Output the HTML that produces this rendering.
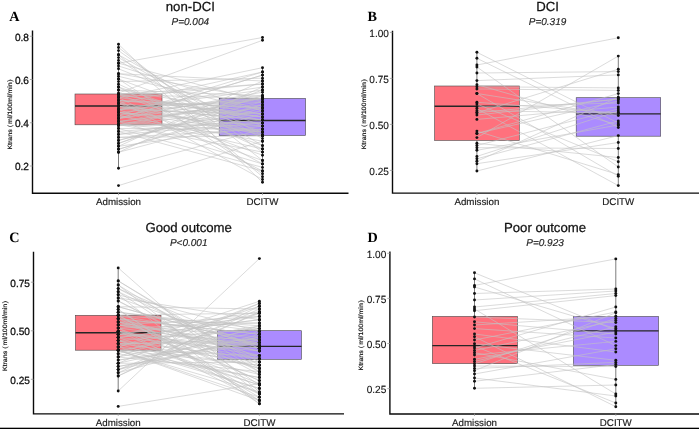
<!DOCTYPE html>
<html><head><meta charset="utf-8"><title>Ktrans boxplots</title>
<style>html,body{margin:0;padding:0;background:#fff;width:699px;height:429px;overflow:hidden}</style>
</head><body>
<svg width="699" height="429" viewBox="0 0 699 429" style="display:block;will-change:transform;text-rendering:geometricPrecision"><rect x="0" y="0" width="699" height="429" fill="#fff"/><g><line x1="118.5" y1="44.3" x2="118.5" y2="94" stroke="#6e6e6e" stroke-width="0.9"/><line x1="118.5" y1="124.8" x2="118.5" y2="168.3" stroke="#6e6e6e" stroke-width="0.9"/><line x1="262.5" y1="67.7" x2="262.5" y2="98.4" stroke="#6e6e6e" stroke-width="0.9"/><line x1="262.5" y1="135.5" x2="262.5" y2="182.3" stroke="#6e6e6e" stroke-width="0.9"/><rect x="75" y="94" width="87.00" height="30.80" fill="#FF717D" stroke="#4a4a4a" stroke-width="0.6"/><line x1="75" y1="106" x2="162" y2="106" stroke="#262626" stroke-width="1.35"/><rect x="219.2" y="98.4" width="86.40" height="37.10" fill="#AB8BFF" stroke="#4a4a4a" stroke-width="0.6"/><line x1="219.2" y1="120.5" x2="305.6" y2="120.5" stroke="#262626" stroke-width="1.35"/><path d="M118.5 63.2L262.5 37.5M118.5 93.0L262.5 40.3M118.5 168.3L262.5 129.2M118.5 185.6L262.5 141.2M118.5 44.3L262.5 182.3M118.5 47.5L262.5 160.5M118.5 50.6L262.5 152.1M118.5 54.8L262.5 176.7M118.5 54.8L262.5 135.3M118.5 57.6L262.5 138.6M118.5 60.4L262.5 145.6M118.5 63.2L262.5 101.7M118.5 66.0L262.5 110.8M118.5 68.8L262.5 126.1M118.5 73.7L262.5 81.0M118.5 73.7L262.5 98.6M118.5 76.3L262.5 110.8M118.5 79.0L262.5 132.2M118.5 79.0L262.5 173.8M118.5 81.6L262.5 78.2M118.5 84.2L262.5 149.0M118.5 87.0L262.5 163.9M118.5 87.0L262.5 135.3M118.5 90.0L262.5 113.9M118.5 90.0L262.5 95.7M118.5 94.5L262.5 117.0M118.5 94.5L262.5 145.6M118.5 94.5L262.5 120.0M118.5 94.5L262.5 84.0M118.5 94.5L262.5 98.6M118.5 97.5L262.5 84.0M118.5 97.5L262.5 67.7M118.5 97.5L262.5 117.0M118.5 97.5L262.5 171.0M118.5 100.5L262.5 107.8M118.5 100.5L262.5 113.9M118.5 100.5L262.5 179.5M118.5 100.5L262.5 107.8M118.5 103.5L262.5 72.0M118.5 103.5L262.5 117.0M118.5 103.5L262.5 155.2M118.5 103.5L262.5 135.3M118.5 106.5L262.5 132.2M118.5 106.5L262.5 101.7M118.5 106.5L262.5 120.0M118.5 106.5L262.5 120.0M118.5 109.5L262.5 90.0M118.5 109.5L262.5 87.0M118.5 109.5L262.5 98.2M118.5 109.5L262.5 160.5M118.5 109.5L262.5 113.9M118.5 112.5L262.5 126.1M118.5 112.5L262.5 98.6M118.5 112.5L262.5 132.2M118.5 112.5L262.5 123.1M118.5 115.5L262.5 149.0M118.5 115.5L262.5 72.0M118.5 115.5L262.5 141.2M118.5 115.5L262.5 95.7M118.5 118.5L262.5 92.2M118.5 118.5L262.5 75.1M118.5 118.5L262.5 98.2M118.5 118.5L262.5 75.1M118.5 121.5L262.5 104.7M118.5 121.5L262.5 163.9M118.5 121.5L262.5 101.7M118.5 121.5L262.5 132.2M118.5 124.5L262.5 152.1M118.5 124.5L262.5 136.0M118.5 124.5L262.5 98.2M118.5 124.5L262.5 126.1M118.5 125.5L262.5 98.6M118.5 125.5L262.5 123.1M118.5 125.5L262.5 107.8M118.5 128.5L262.5 129.2M118.5 128.5L262.5 167.4M118.5 131.5L262.5 171.0M118.5 131.5L262.5 120.0M118.5 134.4L262.5 110.8M118.5 134.4L262.5 123.1M118.5 137.4L262.5 136.0M118.5 137.4L262.5 129.2M118.5 140.4L262.5 101.7M118.5 140.4L262.5 104.7M118.5 143.4L262.5 90.0M118.5 143.4L262.5 95.7M118.5 146.3L262.5 81.0M118.5 146.3L262.5 126.1M118.5 149.3L262.5 104.7M118.5 149.3L262.5 107.8M118.5 152.3L262.5 113.9M118.5 152.3L262.5 87.0" stroke="#c2c2c2" stroke-width="0.6" fill="none"/><g fill="#111"><circle cx="118.5" cy="44.3" r="1.45"/><circle cx="118.5" cy="47.5" r="1.45"/><circle cx="118.5" cy="50.6" r="1.45"/><circle cx="118.5" cy="54.8" r="1.45"/><circle cx="118.5" cy="54.8" r="1.45"/><circle cx="118.5" cy="57.6" r="1.45"/><circle cx="118.5" cy="60.4" r="1.45"/><circle cx="118.5" cy="63.2" r="1.45"/><circle cx="118.5" cy="63.2" r="1.45"/><circle cx="118.5" cy="66.0" r="1.45"/><circle cx="118.5" cy="68.8" r="1.45"/><circle cx="118.5" cy="73.7" r="1.45"/><circle cx="118.5" cy="73.7" r="1.45"/><circle cx="118.5" cy="76.3" r="1.45"/><circle cx="118.5" cy="79.0" r="1.45"/><circle cx="118.5" cy="79.0" r="1.45"/><circle cx="118.5" cy="81.6" r="1.45"/><circle cx="118.5" cy="84.2" r="1.45"/><circle cx="118.5" cy="87.0" r="1.45"/><circle cx="118.5" cy="87.0" r="1.45"/><circle cx="118.5" cy="90.0" r="1.45"/><circle cx="118.5" cy="90.0" r="1.45"/><circle cx="118.5" cy="93.0" r="1.45"/><circle cx="118.5" cy="94.5" r="1.45"/><circle cx="118.5" cy="94.5" r="1.45"/><circle cx="118.5" cy="94.5" r="1.45"/><circle cx="118.5" cy="94.5" r="1.45"/><circle cx="118.5" cy="94.5" r="1.45"/><circle cx="118.5" cy="97.5" r="1.45"/><circle cx="118.5" cy="97.5" r="1.45"/><circle cx="118.5" cy="97.5" r="1.45"/><circle cx="118.5" cy="97.5" r="1.45"/><circle cx="118.5" cy="100.5" r="1.45"/><circle cx="118.5" cy="100.5" r="1.45"/><circle cx="118.5" cy="100.5" r="1.45"/><circle cx="118.5" cy="100.5" r="1.45"/><circle cx="118.5" cy="103.5" r="1.45"/><circle cx="118.5" cy="103.5" r="1.45"/><circle cx="118.5" cy="103.5" r="1.45"/><circle cx="118.5" cy="103.5" r="1.45"/><circle cx="118.5" cy="106.5" r="1.45"/><circle cx="118.5" cy="106.5" r="1.45"/><circle cx="118.5" cy="106.5" r="1.45"/><circle cx="118.5" cy="106.5" r="1.45"/><circle cx="118.5" cy="109.5" r="1.45"/><circle cx="118.5" cy="109.5" r="1.45"/><circle cx="118.5" cy="109.5" r="1.45"/><circle cx="118.5" cy="109.5" r="1.45"/><circle cx="118.5" cy="109.5" r="1.45"/><circle cx="118.5" cy="112.5" r="1.45"/><circle cx="118.5" cy="112.5" r="1.45"/><circle cx="118.5" cy="112.5" r="1.45"/><circle cx="118.5" cy="112.5" r="1.45"/><circle cx="118.5" cy="115.5" r="1.45"/><circle cx="118.5" cy="115.5" r="1.45"/><circle cx="118.5" cy="115.5" r="1.45"/><circle cx="118.5" cy="115.5" r="1.45"/><circle cx="118.5" cy="118.5" r="1.45"/><circle cx="118.5" cy="118.5" r="1.45"/><circle cx="118.5" cy="118.5" r="1.45"/><circle cx="118.5" cy="118.5" r="1.45"/><circle cx="118.5" cy="121.5" r="1.45"/><circle cx="118.5" cy="121.5" r="1.45"/><circle cx="118.5" cy="121.5" r="1.45"/><circle cx="118.5" cy="121.5" r="1.45"/><circle cx="118.5" cy="124.5" r="1.45"/><circle cx="118.5" cy="124.5" r="1.45"/><circle cx="118.5" cy="124.5" r="1.45"/><circle cx="118.5" cy="124.5" r="1.45"/><circle cx="118.5" cy="125.5" r="1.45"/><circle cx="118.5" cy="125.5" r="1.45"/><circle cx="118.5" cy="125.5" r="1.45"/><circle cx="118.5" cy="128.5" r="1.45"/><circle cx="118.5" cy="128.5" r="1.45"/><circle cx="118.5" cy="131.5" r="1.45"/><circle cx="118.5" cy="131.5" r="1.45"/><circle cx="118.5" cy="134.4" r="1.45"/><circle cx="118.5" cy="134.4" r="1.45"/><circle cx="118.5" cy="137.4" r="1.45"/><circle cx="118.5" cy="137.4" r="1.45"/><circle cx="118.5" cy="140.4" r="1.45"/><circle cx="118.5" cy="140.4" r="1.45"/><circle cx="118.5" cy="143.4" r="1.45"/><circle cx="118.5" cy="143.4" r="1.45"/><circle cx="118.5" cy="146.3" r="1.45"/><circle cx="118.5" cy="146.3" r="1.45"/><circle cx="118.5" cy="149.3" r="1.45"/><circle cx="118.5" cy="149.3" r="1.45"/><circle cx="118.5" cy="152.3" r="1.45"/><circle cx="118.5" cy="152.3" r="1.45"/><circle cx="118.5" cy="168.3" r="1.45"/><circle cx="118.5" cy="185.6" r="1.45"/><circle cx="262.5" cy="37.5" r="1.45"/><circle cx="262.5" cy="40.3" r="1.45"/><circle cx="262.5" cy="67.7" r="1.45"/><circle cx="262.5" cy="72.0" r="1.45"/><circle cx="262.5" cy="72.0" r="1.45"/><circle cx="262.5" cy="75.1" r="1.45"/><circle cx="262.5" cy="75.1" r="1.45"/><circle cx="262.5" cy="78.2" r="1.45"/><circle cx="262.5" cy="81.0" r="1.45"/><circle cx="262.5" cy="81.0" r="1.45"/><circle cx="262.5" cy="84.0" r="1.45"/><circle cx="262.5" cy="84.0" r="1.45"/><circle cx="262.5" cy="87.0" r="1.45"/><circle cx="262.5" cy="87.0" r="1.45"/><circle cx="262.5" cy="90.0" r="1.45"/><circle cx="262.5" cy="90.0" r="1.45"/><circle cx="262.5" cy="92.2" r="1.45"/><circle cx="262.5" cy="95.7" r="1.45"/><circle cx="262.5" cy="95.7" r="1.45"/><circle cx="262.5" cy="95.7" r="1.45"/><circle cx="262.5" cy="98.2" r="1.45"/><circle cx="262.5" cy="98.2" r="1.45"/><circle cx="262.5" cy="98.2" r="1.45"/><circle cx="262.5" cy="98.6" r="1.45"/><circle cx="262.5" cy="98.6" r="1.45"/><circle cx="262.5" cy="98.6" r="1.45"/><circle cx="262.5" cy="98.6" r="1.45"/><circle cx="262.5" cy="101.7" r="1.45"/><circle cx="262.5" cy="101.7" r="1.45"/><circle cx="262.5" cy="101.7" r="1.45"/><circle cx="262.5" cy="101.7" r="1.45"/><circle cx="262.5" cy="104.7" r="1.45"/><circle cx="262.5" cy="104.7" r="1.45"/><circle cx="262.5" cy="104.7" r="1.45"/><circle cx="262.5" cy="107.8" r="1.45"/><circle cx="262.5" cy="107.8" r="1.45"/><circle cx="262.5" cy="107.8" r="1.45"/><circle cx="262.5" cy="107.8" r="1.45"/><circle cx="262.5" cy="110.8" r="1.45"/><circle cx="262.5" cy="110.8" r="1.45"/><circle cx="262.5" cy="110.8" r="1.45"/><circle cx="262.5" cy="113.9" r="1.45"/><circle cx="262.5" cy="113.9" r="1.45"/><circle cx="262.5" cy="113.9" r="1.45"/><circle cx="262.5" cy="113.9" r="1.45"/><circle cx="262.5" cy="117.0" r="1.45"/><circle cx="262.5" cy="117.0" r="1.45"/><circle cx="262.5" cy="117.0" r="1.45"/><circle cx="262.5" cy="120.0" r="1.45"/><circle cx="262.5" cy="120.0" r="1.45"/><circle cx="262.5" cy="120.0" r="1.45"/><circle cx="262.5" cy="120.0" r="1.45"/><circle cx="262.5" cy="123.1" r="1.45"/><circle cx="262.5" cy="123.1" r="1.45"/><circle cx="262.5" cy="123.1" r="1.45"/><circle cx="262.5" cy="126.1" r="1.45"/><circle cx="262.5" cy="126.1" r="1.45"/><circle cx="262.5" cy="126.1" r="1.45"/><circle cx="262.5" cy="126.1" r="1.45"/><circle cx="262.5" cy="129.2" r="1.45"/><circle cx="262.5" cy="129.2" r="1.45"/><circle cx="262.5" cy="129.2" r="1.45"/><circle cx="262.5" cy="132.2" r="1.45"/><circle cx="262.5" cy="132.2" r="1.45"/><circle cx="262.5" cy="132.2" r="1.45"/><circle cx="262.5" cy="132.2" r="1.45"/><circle cx="262.5" cy="135.3" r="1.45"/><circle cx="262.5" cy="135.3" r="1.45"/><circle cx="262.5" cy="135.3" r="1.45"/><circle cx="262.5" cy="136.0" r="1.45"/><circle cx="262.5" cy="136.0" r="1.45"/><circle cx="262.5" cy="138.6" r="1.45"/><circle cx="262.5" cy="141.2" r="1.45"/><circle cx="262.5" cy="141.2" r="1.45"/><circle cx="262.5" cy="145.6" r="1.45"/><circle cx="262.5" cy="145.6" r="1.45"/><circle cx="262.5" cy="149.0" r="1.45"/><circle cx="262.5" cy="149.0" r="1.45"/><circle cx="262.5" cy="152.1" r="1.45"/><circle cx="262.5" cy="152.1" r="1.45"/><circle cx="262.5" cy="155.2" r="1.45"/><circle cx="262.5" cy="160.5" r="1.45"/><circle cx="262.5" cy="160.5" r="1.45"/><circle cx="262.5" cy="163.9" r="1.45"/><circle cx="262.5" cy="163.9" r="1.45"/><circle cx="262.5" cy="167.4" r="1.45"/><circle cx="262.5" cy="171.0" r="1.45"/><circle cx="262.5" cy="171.0" r="1.45"/><circle cx="262.5" cy="173.8" r="1.45"/><circle cx="262.5" cy="176.7" r="1.45"/><circle cx="262.5" cy="179.5" r="1.45"/><circle cx="262.5" cy="182.3" r="1.45"/></g><path d="M32.5 30.6V193.20000000000002H348.5" stroke="#0a0a0a" stroke-width="1.4" fill="none"/><line x1="29.9" y1="36.25" x2="32.5" y2="36.25" stroke="#999" stroke-width="0.8"/><text transform="translate(28.9 40.55) scale(0.97 1)" font-size="10.4" text-anchor="end" fill="#111" stroke="#111" stroke-width="0.3" font-family='"Liberation Sans", sans-serif'>0.8</text><line x1="29.9" y1="79.5" x2="32.5" y2="79.5" stroke="#999" stroke-width="0.8"/><text transform="translate(28.9 83.8) scale(0.97 1)" font-size="10.4" text-anchor="end" fill="#111" stroke="#111" stroke-width="0.3" font-family='"Liberation Sans", sans-serif'>0.6</text><line x1="29.9" y1="122.75" x2="32.5" y2="122.75" stroke="#999" stroke-width="0.8"/><text transform="translate(28.9 127.05) scale(0.97 1)" font-size="10.4" text-anchor="end" fill="#111" stroke="#111" stroke-width="0.3" font-family='"Liberation Sans", sans-serif'>0.4</text><line x1="29.9" y1="166" x2="32.5" y2="166" stroke="#999" stroke-width="0.8"/><text transform="translate(28.9 170.3) scale(0.97 1)" font-size="10.4" text-anchor="end" fill="#111" stroke="#111" stroke-width="0.3" font-family='"Liberation Sans", sans-serif'>0.2</text><line x1="118.5" y1="192.9" x2="118.5" y2="195.1" stroke="#999" stroke-width="0.8"/><line x1="262.5" y1="192.9" x2="262.5" y2="195.1" stroke="#999" stroke-width="0.8"/><text x="118.5" y="204.9" font-size="9.75" stroke="#1a1a1a" stroke-width="0.15" text-anchor="middle" fill="#1a1a1a" font-family='"Liberation Sans", sans-serif'>Admission</text><text x="262.5" y="204.9" font-size="9.75" stroke="#1a1a1a" stroke-width="0.15" text-anchor="middle" fill="#1a1a1a" font-family='"Liberation Sans", sans-serif'>DCITW</text><text x="190.3" y="11" font-size="13.2" text-anchor="middle" fill="#111" stroke="#111" stroke-width="0.25" font-family='"Liberation Sans", sans-serif'>non-DCI</text><text x="190.3" y="24.9" font-size="10" font-style="italic" text-anchor="middle" fill="#222" stroke="#222" stroke-width="0.15" font-family='"Liberation Sans", sans-serif'>P=0.004</text><text x="9.2" y="21" font-size="14.2" font-weight="bold" fill="#000" font-family='"Liberation Serif", serif'>A</text><text transform="translate(12.0 149.6) rotate(-90) scale(1 0.9)" font-size="7" fill="#111" stroke="#111" stroke-width="0.2" font-family='"Liberation Sans", sans-serif'>Ktrans<tspan dx="2.1">(</tspan><tspan dx="1.0">ml/100ml/min</tspan><tspan dx="0.6">)</tspan></text></g><g><line x1="476.9" y1="52.3" x2="476.9" y2="86" stroke="#6e6e6e" stroke-width="0.9"/><line x1="476.9" y1="140.4" x2="476.9" y2="171" stroke="#6e6e6e" stroke-width="0.9"/><line x1="618.3" y1="56.1" x2="618.3" y2="97.7" stroke="#6e6e6e" stroke-width="0.9"/><line x1="618.3" y1="136.2" x2="618.3" y2="185.6" stroke="#6e6e6e" stroke-width="0.9"/><rect x="434.6" y="86" width="84.70" height="54.40" fill="#FF717D" stroke="#4a4a4a" stroke-width="0.6"/><line x1="434.6" y1="106.2" x2="519.3" y2="106.2" stroke="#262626" stroke-width="1.35"/><rect x="576.2" y="97.7" width="84.50" height="38.50" fill="#AB8BFF" stroke="#4a4a4a" stroke-width="0.6"/><line x1="576.2" y1="113.8" x2="660.7" y2="113.8" stroke="#262626" stroke-width="1.35"/><path d="M476.9 65.0L618.3 37.8M476.9 137.6L618.3 56.1M476.9 52.3L618.3 123.0M476.9 58.3L618.3 127.5M476.9 73.0L618.3 71.6M476.9 80.6L618.3 74.9M476.9 86.7L618.3 87.9M476.9 89.0L618.3 90.4M476.9 67.0L618.3 167.0M476.9 84.7L618.3 125.0M476.9 93.5L618.3 176.2M476.9 93.5L618.3 115.5M476.9 102.3L618.3 113.0M476.9 104.0L618.3 161.7M476.9 106.8L618.3 103.0M476.9 108.6L618.3 185.6M476.9 110.7L618.3 113.0M476.9 112.8L618.3 69.2M476.9 112.8L618.3 99.0M476.9 115.1L618.3 99.0M476.9 119.4L618.3 107.0M476.9 131.1L618.3 174.6M476.9 133.5L618.3 93.6M476.9 133.5L618.3 101.0M476.9 143.3L618.3 157.5M476.9 145.5L618.3 109.0M476.9 147.7L618.3 148.5M476.9 150.3L618.3 125.0M476.9 156.4L618.3 111.0M476.9 158.8L618.3 121.0M476.9 161.3L618.3 97.2M476.9 163.7L618.3 142.5M476.9 171.0L618.3 135.6" stroke="#c2c2c2" stroke-width="0.6" fill="none"/><g fill="#111"><circle cx="476.9" cy="52.3" r="1.45"/><circle cx="476.9" cy="58.3" r="1.45"/><circle cx="476.9" cy="65.0" r="1.45"/><circle cx="476.9" cy="67.0" r="1.45"/><circle cx="476.9" cy="73.0" r="1.45"/><circle cx="476.9" cy="80.6" r="1.45"/><circle cx="476.9" cy="84.7" r="1.45"/><circle cx="476.9" cy="86.7" r="1.45"/><circle cx="476.9" cy="89.0" r="1.45"/><circle cx="476.9" cy="93.5" r="1.45"/><circle cx="476.9" cy="102.3" r="1.45"/><circle cx="476.9" cy="104.0" r="1.45"/><circle cx="476.9" cy="106.8" r="1.45"/><circle cx="476.9" cy="108.6" r="1.45"/><circle cx="476.9" cy="110.7" r="1.45"/><circle cx="476.9" cy="112.8" r="1.45"/><circle cx="476.9" cy="115.1" r="1.45"/><circle cx="476.9" cy="119.4" r="1.45"/><circle cx="476.9" cy="112.8" r="1.45"/><circle cx="476.9" cy="131.1" r="1.45"/><circle cx="476.9" cy="133.5" r="1.45"/><circle cx="476.9" cy="137.6" r="1.45"/><circle cx="476.9" cy="143.3" r="1.45"/><circle cx="476.9" cy="145.5" r="1.45"/><circle cx="476.9" cy="147.7" r="1.45"/><circle cx="476.9" cy="150.3" r="1.45"/><circle cx="476.9" cy="156.4" r="1.45"/><circle cx="476.9" cy="158.8" r="1.45"/><circle cx="476.9" cy="161.3" r="1.45"/><circle cx="476.9" cy="163.7" r="1.45"/><circle cx="476.9" cy="171.0" r="1.45"/><circle cx="476.9" cy="93.5" r="1.45"/><circle cx="476.9" cy="133.5" r="1.45"/><circle cx="618.3" cy="37.8" r="1.45"/><circle cx="618.3" cy="56.1" r="1.45"/><circle cx="618.3" cy="69.2" r="1.45"/><circle cx="618.3" cy="71.6" r="1.45"/><circle cx="618.3" cy="74.9" r="1.45"/><circle cx="618.3" cy="87.9" r="1.45"/><circle cx="618.3" cy="90.4" r="1.45"/><circle cx="618.3" cy="93.6" r="1.45"/><circle cx="618.3" cy="97.2" r="1.45"/><circle cx="618.3" cy="99.0" r="1.45"/><circle cx="618.3" cy="101.0" r="1.45"/><circle cx="618.3" cy="103.0" r="1.45"/><circle cx="618.3" cy="107.0" r="1.45"/><circle cx="618.3" cy="109.0" r="1.45"/><circle cx="618.3" cy="111.0" r="1.45"/><circle cx="618.3" cy="113.0" r="1.45"/><circle cx="618.3" cy="115.5" r="1.45"/><circle cx="618.3" cy="121.0" r="1.45"/><circle cx="618.3" cy="123.0" r="1.45"/><circle cx="618.3" cy="125.0" r="1.45"/><circle cx="618.3" cy="127.5" r="1.45"/><circle cx="618.3" cy="135.6" r="1.45"/><circle cx="618.3" cy="142.5" r="1.45"/><circle cx="618.3" cy="148.5" r="1.45"/><circle cx="618.3" cy="157.5" r="1.45"/><circle cx="618.3" cy="161.7" r="1.45"/><circle cx="618.3" cy="167.0" r="1.45"/><circle cx="618.3" cy="174.6" r="1.45"/><circle cx="618.3" cy="176.2" r="1.45"/><circle cx="618.3" cy="185.6" r="1.45"/><circle cx="618.3" cy="99.0" r="1.45"/><circle cx="618.3" cy="113.0" r="1.45"/><circle cx="618.3" cy="125.0" r="1.45"/></g><path d="M392.5 30.8V193.10000000000002H699" stroke="#0a0a0a" stroke-width="1.4" fill="none"/><line x1="389.9" y1="32.4" x2="392.5" y2="32.4" stroke="#999" stroke-width="0.8"/><text transform="translate(388.9 36.699999999999996) scale(0.97 1)" font-size="10.4" text-anchor="end" fill="#111" stroke="#111" stroke-width="0.1" font-family='"Liberation Sans", sans-serif'>1.00</text><line x1="389.9" y1="78.4" x2="392.5" y2="78.4" stroke="#999" stroke-width="0.8"/><text transform="translate(388.9 82.7) scale(0.97 1)" font-size="10.4" text-anchor="end" fill="#111" stroke="#111" stroke-width="0.1" font-family='"Liberation Sans", sans-serif'>0.75</text><line x1="389.9" y1="124.4" x2="392.5" y2="124.4" stroke="#999" stroke-width="0.8"/><text transform="translate(388.9 128.70000000000002) scale(0.97 1)" font-size="10.4" text-anchor="end" fill="#111" stroke="#111" stroke-width="0.1" font-family='"Liberation Sans", sans-serif'>0.50</text><line x1="389.9" y1="170.4" x2="392.5" y2="170.4" stroke="#999" stroke-width="0.8"/><text transform="translate(388.9 174.70000000000002) scale(0.97 1)" font-size="10.4" text-anchor="end" fill="#111" stroke="#111" stroke-width="0.1" font-family='"Liberation Sans", sans-serif'>0.25</text><line x1="476.9" y1="192.8" x2="476.9" y2="195.0" stroke="#999" stroke-width="0.8"/><line x1="618.3" y1="192.8" x2="618.3" y2="195.0" stroke="#999" stroke-width="0.8"/><text x="476.9" y="204.5" font-size="9.75" stroke="#1a1a1a" stroke-width="0.15" text-anchor="middle" fill="#1a1a1a" font-family='"Liberation Sans", sans-serif'>Admission</text><text x="618.3" y="204.5" font-size="9.75" stroke="#1a1a1a" stroke-width="0.15" text-anchor="middle" fill="#1a1a1a" font-family='"Liberation Sans", sans-serif'>DCITW</text><text x="547.5" y="10.8" font-size="13.2" text-anchor="middle" fill="#111" stroke="#111" stroke-width="0.25" font-family='"Liberation Sans", sans-serif'>DCI</text><text x="547.5" y="24.8" font-size="10" font-style="italic" text-anchor="middle" fill="#222" stroke="#222" stroke-width="0.15" font-family='"Liberation Sans", sans-serif'>P=0.319</text><text x="367.6" y="20.7" font-size="14.2" font-weight="bold" fill="#000" font-family='"Liberation Serif", serif'>B</text><text transform="translate(365.9 149.3) rotate(-90) scale(1 0.9)" font-size="7" fill="#111" stroke="#111" stroke-width="0.2" font-family='"Liberation Sans", sans-serif'>Ktrans<tspan dx="2.1">(</tspan><tspan dx="1.0">ml/100ml/min</tspan><tspan dx="0.6">)</tspan></text></g><g><line x1="118.2" y1="267.9" x2="118.2" y2="315.3" stroke="#6e6e6e" stroke-width="0.9"/><line x1="118.2" y1="350.2" x2="118.2" y2="391" stroke="#6e6e6e" stroke-width="0.9"/><line x1="259.4" y1="301.5" x2="259.4" y2="330.7" stroke="#6e6e6e" stroke-width="0.9"/><line x1="259.4" y1="359.3" x2="259.4" y2="402.8" stroke="#6e6e6e" stroke-width="0.9"/><rect x="75.5" y="315.3" width="85.50" height="34.90" fill="#FF717D" stroke="#4a4a4a" stroke-width="0.6"/><line x1="75.5" y1="332.7" x2="161" y2="332.7" stroke="#262626" stroke-width="1.35"/><rect x="217.6" y="330.7" width="83.90" height="28.60" fill="#AB8BFF" stroke="#4a4a4a" stroke-width="0.6"/><line x1="217.6" y1="346.4" x2="301.5" y2="346.4" stroke="#262626" stroke-width="1.35"/><path d="M118.2 391.0L259.4 258.6M118.2 406.4L259.4 383.6M118.2 267.9L259.4 392.0M118.2 280.9L259.4 368.5M118.2 280.9L259.4 365.3M118.2 285.0L259.4 394.0M118.2 285.0L259.4 371.7M118.2 288.6L259.4 362.0M118.2 288.6L259.4 348.2M118.2 291.7L259.4 385.0M118.2 291.7L259.4 358.8M118.2 294.8L259.4 403.8M118.2 294.8L259.4 331.4M118.2 297.9L259.4 348.2M118.2 297.9L259.4 319.7M118.2 301.0L259.4 371.7M118.2 301.0L259.4 374.5M118.2 306.7L259.4 309.0M118.2 306.7L259.4 345.4M118.2 306.7L259.4 345.4M118.2 309.5L259.4 400.5M118.2 309.5L259.4 403.8M118.2 312.2L259.4 331.4M118.2 312.2L259.4 328.6M118.2 315.0L259.4 397.3M118.2 315.0L259.4 313.2M118.2 315.6L259.4 394.0M118.2 315.6L259.4 325.8M118.2 315.6L259.4 339.8M118.2 315.6L259.4 380.6M118.2 318.7L259.4 334.2M118.2 318.7L259.4 334.2M118.2 318.7L259.4 380.6M118.2 318.7L259.4 355.6M118.2 321.9L259.4 351.0M118.2 321.9L259.4 348.2M118.2 321.9L259.4 323.0M118.2 321.9L259.4 368.5M118.2 325.0L259.4 342.6M118.2 325.0L259.4 351.0M118.2 325.0L259.4 337.0M118.2 325.0L259.4 316.5M118.2 328.1L259.4 323.0M118.2 328.1L259.4 345.4M118.2 328.1L259.4 400.5M118.2 328.1L259.4 383.6M118.2 331.2L259.4 358.8M118.2 331.2L259.4 355.6M118.2 331.2L259.4 394.0M118.2 331.2L259.4 368.5M118.2 334.4L259.4 316.5M118.2 334.4L259.4 339.8M118.2 334.4L259.4 311.8M118.2 334.4L259.4 348.2M118.2 337.5L259.4 319.7M118.2 337.5L259.4 385.0M118.2 337.5L259.4 319.7M118.2 337.5L259.4 351.0M118.2 340.6L259.4 358.8M118.2 340.6L259.4 374.5M118.2 340.6L259.4 385.0M118.2 340.6L259.4 328.6M118.2 343.7L259.4 388.5M118.2 343.7L259.4 362.0M118.2 343.7L259.4 339.8M118.2 343.7L259.4 342.6M118.2 346.9L259.4 365.3M118.2 346.9L259.4 388.5M118.2 346.9L259.4 313.2M118.2 346.9L259.4 301.3M118.2 350.0L259.4 397.3M118.2 350.0L259.4 400.5M118.2 350.0L259.4 365.3M118.2 350.0L259.4 355.6M118.2 350.6L259.4 392.0M118.2 350.6L259.4 325.8M118.2 350.6L259.4 377.5M118.2 353.8L259.4 377.5M118.2 353.8L259.4 306.2M118.2 357.0L259.4 328.6M118.2 357.0L259.4 303.4M118.2 357.0L259.4 371.7M118.2 360.1L259.4 342.6M118.2 360.1L259.4 337.0M118.2 363.3L259.4 303.4M118.2 363.3L259.4 331.4M118.2 363.3L259.4 362.0M118.2 366.5L259.4 339.8M118.2 366.5L259.4 342.6M118.2 369.6L259.4 325.8M118.2 369.6L259.4 337.0M118.2 369.6L259.4 313.2M118.2 372.8L259.4 334.2M118.2 372.8L259.4 309.0M118.2 376.0L259.4 311.8M118.2 376.0L259.4 306.2" stroke="#c2c2c2" stroke-width="0.6" fill="none"/><g fill="#111"><circle cx="118.2" cy="267.9" r="1.45"/><circle cx="118.2" cy="280.9" r="1.45"/><circle cx="118.2" cy="280.9" r="1.45"/><circle cx="118.2" cy="285.0" r="1.45"/><circle cx="118.2" cy="285.0" r="1.45"/><circle cx="118.2" cy="288.6" r="1.45"/><circle cx="118.2" cy="288.6" r="1.45"/><circle cx="118.2" cy="291.7" r="1.45"/><circle cx="118.2" cy="291.7" r="1.45"/><circle cx="118.2" cy="294.8" r="1.45"/><circle cx="118.2" cy="294.8" r="1.45"/><circle cx="118.2" cy="297.9" r="1.45"/><circle cx="118.2" cy="297.9" r="1.45"/><circle cx="118.2" cy="301.0" r="1.45"/><circle cx="118.2" cy="301.0" r="1.45"/><circle cx="118.2" cy="306.7" r="1.45"/><circle cx="118.2" cy="306.7" r="1.45"/><circle cx="118.2" cy="306.7" r="1.45"/><circle cx="118.2" cy="309.5" r="1.45"/><circle cx="118.2" cy="309.5" r="1.45"/><circle cx="118.2" cy="312.2" r="1.45"/><circle cx="118.2" cy="312.2" r="1.45"/><circle cx="118.2" cy="315.0" r="1.45"/><circle cx="118.2" cy="315.0" r="1.45"/><circle cx="118.2" cy="315.6" r="1.45"/><circle cx="118.2" cy="315.6" r="1.45"/><circle cx="118.2" cy="315.6" r="1.45"/><circle cx="118.2" cy="315.6" r="1.45"/><circle cx="118.2" cy="318.7" r="1.45"/><circle cx="118.2" cy="318.7" r="1.45"/><circle cx="118.2" cy="318.7" r="1.45"/><circle cx="118.2" cy="318.7" r="1.45"/><circle cx="118.2" cy="321.9" r="1.45"/><circle cx="118.2" cy="321.9" r="1.45"/><circle cx="118.2" cy="321.9" r="1.45"/><circle cx="118.2" cy="321.9" r="1.45"/><circle cx="118.2" cy="325.0" r="1.45"/><circle cx="118.2" cy="325.0" r="1.45"/><circle cx="118.2" cy="325.0" r="1.45"/><circle cx="118.2" cy="325.0" r="1.45"/><circle cx="118.2" cy="328.1" r="1.45"/><circle cx="118.2" cy="328.1" r="1.45"/><circle cx="118.2" cy="328.1" r="1.45"/><circle cx="118.2" cy="328.1" r="1.45"/><circle cx="118.2" cy="331.2" r="1.45"/><circle cx="118.2" cy="331.2" r="1.45"/><circle cx="118.2" cy="331.2" r="1.45"/><circle cx="118.2" cy="331.2" r="1.45"/><circle cx="118.2" cy="334.4" r="1.45"/><circle cx="118.2" cy="334.4" r="1.45"/><circle cx="118.2" cy="334.4" r="1.45"/><circle cx="118.2" cy="334.4" r="1.45"/><circle cx="118.2" cy="337.5" r="1.45"/><circle cx="118.2" cy="337.5" r="1.45"/><circle cx="118.2" cy="337.5" r="1.45"/><circle cx="118.2" cy="337.5" r="1.45"/><circle cx="118.2" cy="340.6" r="1.45"/><circle cx="118.2" cy="340.6" r="1.45"/><circle cx="118.2" cy="340.6" r="1.45"/><circle cx="118.2" cy="340.6" r="1.45"/><circle cx="118.2" cy="343.7" r="1.45"/><circle cx="118.2" cy="343.7" r="1.45"/><circle cx="118.2" cy="343.7" r="1.45"/><circle cx="118.2" cy="343.7" r="1.45"/><circle cx="118.2" cy="346.9" r="1.45"/><circle cx="118.2" cy="346.9" r="1.45"/><circle cx="118.2" cy="346.9" r="1.45"/><circle cx="118.2" cy="346.9" r="1.45"/><circle cx="118.2" cy="350.0" r="1.45"/><circle cx="118.2" cy="350.0" r="1.45"/><circle cx="118.2" cy="350.0" r="1.45"/><circle cx="118.2" cy="350.0" r="1.45"/><circle cx="118.2" cy="350.6" r="1.45"/><circle cx="118.2" cy="350.6" r="1.45"/><circle cx="118.2" cy="350.6" r="1.45"/><circle cx="118.2" cy="353.8" r="1.45"/><circle cx="118.2" cy="353.8" r="1.45"/><circle cx="118.2" cy="357.0" r="1.45"/><circle cx="118.2" cy="357.0" r="1.45"/><circle cx="118.2" cy="357.0" r="1.45"/><circle cx="118.2" cy="360.1" r="1.45"/><circle cx="118.2" cy="360.1" r="1.45"/><circle cx="118.2" cy="363.3" r="1.45"/><circle cx="118.2" cy="363.3" r="1.45"/><circle cx="118.2" cy="363.3" r="1.45"/><circle cx="118.2" cy="366.5" r="1.45"/><circle cx="118.2" cy="366.5" r="1.45"/><circle cx="118.2" cy="369.6" r="1.45"/><circle cx="118.2" cy="369.6" r="1.45"/><circle cx="118.2" cy="369.6" r="1.45"/><circle cx="118.2" cy="372.8" r="1.45"/><circle cx="118.2" cy="372.8" r="1.45"/><circle cx="118.2" cy="376.0" r="1.45"/><circle cx="118.2" cy="376.0" r="1.45"/><circle cx="118.2" cy="391.0" r="1.45"/><circle cx="118.2" cy="406.4" r="1.45"/><circle cx="259.4" cy="258.6" r="1.45"/><circle cx="259.4" cy="301.3" r="1.45"/><circle cx="259.4" cy="303.4" r="1.45"/><circle cx="259.4" cy="303.4" r="1.45"/><circle cx="259.4" cy="306.2" r="1.45"/><circle cx="259.4" cy="306.2" r="1.45"/><circle cx="259.4" cy="309.0" r="1.45"/><circle cx="259.4" cy="309.0" r="1.45"/><circle cx="259.4" cy="311.8" r="1.45"/><circle cx="259.4" cy="311.8" r="1.45"/><circle cx="259.4" cy="313.2" r="1.45"/><circle cx="259.4" cy="313.2" r="1.45"/><circle cx="259.4" cy="313.2" r="1.45"/><circle cx="259.4" cy="316.5" r="1.45"/><circle cx="259.4" cy="316.5" r="1.45"/><circle cx="259.4" cy="319.7" r="1.45"/><circle cx="259.4" cy="319.7" r="1.45"/><circle cx="259.4" cy="319.7" r="1.45"/><circle cx="259.4" cy="323.0" r="1.45"/><circle cx="259.4" cy="323.0" r="1.45"/><circle cx="259.4" cy="325.8" r="1.45"/><circle cx="259.4" cy="325.8" r="1.45"/><circle cx="259.4" cy="325.8" r="1.45"/><circle cx="259.4" cy="328.6" r="1.45"/><circle cx="259.4" cy="328.6" r="1.45"/><circle cx="259.4" cy="328.6" r="1.45"/><circle cx="259.4" cy="331.4" r="1.45"/><circle cx="259.4" cy="331.4" r="1.45"/><circle cx="259.4" cy="331.4" r="1.45"/><circle cx="259.4" cy="334.2" r="1.45"/><circle cx="259.4" cy="334.2" r="1.45"/><circle cx="259.4" cy="334.2" r="1.45"/><circle cx="259.4" cy="337.0" r="1.45"/><circle cx="259.4" cy="337.0" r="1.45"/><circle cx="259.4" cy="337.0" r="1.45"/><circle cx="259.4" cy="339.8" r="1.45"/><circle cx="259.4" cy="339.8" r="1.45"/><circle cx="259.4" cy="339.8" r="1.45"/><circle cx="259.4" cy="339.8" r="1.45"/><circle cx="259.4" cy="342.6" r="1.45"/><circle cx="259.4" cy="342.6" r="1.45"/><circle cx="259.4" cy="342.6" r="1.45"/><circle cx="259.4" cy="342.6" r="1.45"/><circle cx="259.4" cy="345.4" r="1.45"/><circle cx="259.4" cy="345.4" r="1.45"/><circle cx="259.4" cy="345.4" r="1.45"/><circle cx="259.4" cy="348.2" r="1.45"/><circle cx="259.4" cy="348.2" r="1.45"/><circle cx="259.4" cy="348.2" r="1.45"/><circle cx="259.4" cy="348.2" r="1.45"/><circle cx="259.4" cy="351.0" r="1.45"/><circle cx="259.4" cy="351.0" r="1.45"/><circle cx="259.4" cy="351.0" r="1.45"/><circle cx="259.4" cy="355.6" r="1.45"/><circle cx="259.4" cy="355.6" r="1.45"/><circle cx="259.4" cy="355.6" r="1.45"/><circle cx="259.4" cy="358.8" r="1.45"/><circle cx="259.4" cy="358.8" r="1.45"/><circle cx="259.4" cy="358.8" r="1.45"/><circle cx="259.4" cy="362.0" r="1.45"/><circle cx="259.4" cy="362.0" r="1.45"/><circle cx="259.4" cy="362.0" r="1.45"/><circle cx="259.4" cy="365.3" r="1.45"/><circle cx="259.4" cy="365.3" r="1.45"/><circle cx="259.4" cy="365.3" r="1.45"/><circle cx="259.4" cy="368.5" r="1.45"/><circle cx="259.4" cy="368.5" r="1.45"/><circle cx="259.4" cy="368.5" r="1.45"/><circle cx="259.4" cy="371.7" r="1.45"/><circle cx="259.4" cy="371.7" r="1.45"/><circle cx="259.4" cy="371.7" r="1.45"/><circle cx="259.4" cy="374.5" r="1.45"/><circle cx="259.4" cy="374.5" r="1.45"/><circle cx="259.4" cy="377.5" r="1.45"/><circle cx="259.4" cy="377.5" r="1.45"/><circle cx="259.4" cy="380.6" r="1.45"/><circle cx="259.4" cy="380.6" r="1.45"/><circle cx="259.4" cy="383.6" r="1.45"/><circle cx="259.4" cy="383.6" r="1.45"/><circle cx="259.4" cy="385.0" r="1.45"/><circle cx="259.4" cy="385.0" r="1.45"/><circle cx="259.4" cy="385.0" r="1.45"/><circle cx="259.4" cy="388.5" r="1.45"/><circle cx="259.4" cy="388.5" r="1.45"/><circle cx="259.4" cy="392.0" r="1.45"/><circle cx="259.4" cy="392.0" r="1.45"/><circle cx="259.4" cy="394.0" r="1.45"/><circle cx="259.4" cy="394.0" r="1.45"/><circle cx="259.4" cy="394.0" r="1.45"/><circle cx="259.4" cy="397.3" r="1.45"/><circle cx="259.4" cy="397.3" r="1.45"/><circle cx="259.4" cy="400.5" r="1.45"/><circle cx="259.4" cy="400.5" r="1.45"/><circle cx="259.4" cy="400.5" r="1.45"/><circle cx="259.4" cy="403.8" r="1.45"/><circle cx="259.4" cy="403.8" r="1.45"/></g><path d="M33.5 251.7V413.90000000000003H344" stroke="#0a0a0a" stroke-width="1.4" fill="none"/><line x1="30.9" y1="282.2" x2="33.5" y2="282.2" stroke="#999" stroke-width="0.8"/><text transform="translate(29.9 286.5) scale(0.97 1)" font-size="10.4" text-anchor="end" fill="#111" stroke="#111" stroke-width="0.3" font-family='"Liberation Sans", sans-serif'>0.75</text><line x1="30.9" y1="330.8" x2="33.5" y2="330.8" stroke="#999" stroke-width="0.8"/><text transform="translate(29.9 335.1) scale(0.97 1)" font-size="10.4" text-anchor="end" fill="#111" stroke="#111" stroke-width="0.3" font-family='"Liberation Sans", sans-serif'>0.50</text><line x1="30.9" y1="379.3" x2="33.5" y2="379.3" stroke="#999" stroke-width="0.8"/><text transform="translate(29.9 383.6) scale(0.97 1)" font-size="10.4" text-anchor="end" fill="#111" stroke="#111" stroke-width="0.3" font-family='"Liberation Sans", sans-serif'>0.25</text><line x1="118.2" y1="413.6" x2="118.2" y2="415.8" stroke="#999" stroke-width="0.8"/><line x1="259.4" y1="413.6" x2="259.4" y2="415.8" stroke="#999" stroke-width="0.8"/><text x="118.2" y="425.8" font-size="9.75" stroke="#1a1a1a" stroke-width="0.15" text-anchor="middle" fill="#1a1a1a" font-family='"Liberation Sans", sans-serif'>Admission</text><text x="259.4" y="425.8" font-size="9.75" stroke="#1a1a1a" stroke-width="0.15" text-anchor="middle" fill="#1a1a1a" font-family='"Liberation Sans", sans-serif'>DCITW</text><text x="188.7" y="232" font-size="13.2" text-anchor="middle" fill="#111" stroke="#111" stroke-width="0.25" font-family='"Liberation Sans", sans-serif'>Good outcome</text><text x="188.7" y="245.8" font-size="10" font-style="italic" text-anchor="middle" fill="#222" stroke="#222" stroke-width="0.15" font-family='"Liberation Sans", sans-serif'>P&lt;0.001</text><text x="9.3" y="242" font-size="14.2" font-weight="bold" fill="#000" font-family='"Liberation Serif", serif'>C</text><text transform="translate(7.2 371.1) rotate(-90) scale(1 0.9)" font-size="7" fill="#111" stroke="#111" stroke-width="0.2" font-family='"Liberation Sans", sans-serif'>Ktrans<tspan dx="2.1">(</tspan><tspan dx="1.0">ml/100ml/min</tspan><tspan dx="0.6">)</tspan></text></g><g><line x1="474.5" y1="272.8" x2="474.5" y2="316.4" stroke="#6e6e6e" stroke-width="0.9"/><line x1="474.5" y1="363.6" x2="474.5" y2="388.3" stroke="#6e6e6e" stroke-width="0.9"/><line x1="615.8" y1="258.9" x2="615.8" y2="316.4" stroke="#6e6e6e" stroke-width="0.9"/><line x1="615.8" y1="365.3" x2="615.8" y2="406.7" stroke="#6e6e6e" stroke-width="0.9"/><rect x="432.3" y="316.4" width="85.10" height="47.20" fill="#FF717D" stroke="#4a4a4a" stroke-width="0.6"/><line x1="432.3" y1="345.6" x2="517.4" y2="345.6" stroke="#262626" stroke-width="1.35"/><rect x="573.4" y="316.4" width="85.20" height="48.90" fill="#AB8BFF" stroke="#4a4a4a" stroke-width="0.6"/><line x1="573.4" y1="330.8" x2="658.6" y2="330.8" stroke="#262626" stroke-width="1.35"/><path d="M474.5 285.4L615.8 258.9M474.5 272.8L615.8 330.3M474.5 278.9L615.8 345.6M474.5 293.5L615.8 289.0M474.5 300.0L615.8 291.0M474.5 307.0L615.8 293.5M474.5 310.7L615.8 295.6M474.5 287.0L615.8 328.5M474.5 309.0L615.8 394.0M474.5 317.0L615.8 322.6M474.5 321.8L615.8 334.0M474.5 325.0L615.8 316.3M474.5 328.6L615.8 338.0M474.5 334.0L615.8 352.0M474.5 336.7L615.8 406.7M474.5 340.0L615.8 312.0M474.5 343.8L615.8 360.3M474.5 346.0L615.8 403.0M474.5 348.0L615.8 307.0M474.5 350.5L615.8 320.5M474.5 352.7L615.8 379.4M474.5 355.0L615.8 341.4M474.5 359.3L615.8 332.0M474.5 361.5L615.8 326.8M474.5 363.8L615.8 318.4M474.5 366.0L615.8 366.6M474.5 368.5L615.8 362.4M474.5 370.7L615.8 312.7M474.5 374.0L615.8 348.8M474.5 378.0L615.8 396.0M474.5 381.3L615.8 364.5M474.5 388.3L615.8 385.0" stroke="#c2c2c2" stroke-width="0.6" fill="none"/><g fill="#111"><circle cx="474.5" cy="272.8" r="1.45"/><circle cx="474.5" cy="278.9" r="1.45"/><circle cx="474.5" cy="285.4" r="1.45"/><circle cx="474.5" cy="287.0" r="1.45"/><circle cx="474.5" cy="293.5" r="1.45"/><circle cx="474.5" cy="300.0" r="1.45"/><circle cx="474.5" cy="307.0" r="1.45"/><circle cx="474.5" cy="309.0" r="1.45"/><circle cx="474.5" cy="310.7" r="1.45"/><circle cx="474.5" cy="321.8" r="1.45"/><circle cx="474.5" cy="328.6" r="1.45"/><circle cx="474.5" cy="334.0" r="1.45"/><circle cx="474.5" cy="336.7" r="1.45"/><circle cx="474.5" cy="343.8" r="1.45"/><circle cx="474.5" cy="346.0" r="1.45"/><circle cx="474.5" cy="348.0" r="1.45"/><circle cx="474.5" cy="350.5" r="1.45"/><circle cx="474.5" cy="352.7" r="1.45"/><circle cx="474.5" cy="359.3" r="1.45"/><circle cx="474.5" cy="361.5" r="1.45"/><circle cx="474.5" cy="363.8" r="1.45"/><circle cx="474.5" cy="366.0" r="1.45"/><circle cx="474.5" cy="368.5" r="1.45"/><circle cx="474.5" cy="370.7" r="1.45"/><circle cx="474.5" cy="374.0" r="1.45"/><circle cx="474.5" cy="378.0" r="1.45"/><circle cx="474.5" cy="381.3" r="1.45"/><circle cx="474.5" cy="388.3" r="1.45"/><circle cx="474.5" cy="325.0" r="1.45"/><circle cx="474.5" cy="340.0" r="1.45"/><circle cx="474.5" cy="355.0" r="1.45"/><circle cx="474.5" cy="317.0" r="1.45"/><circle cx="615.8" cy="258.9" r="1.45"/><circle cx="615.8" cy="289.0" r="1.45"/><circle cx="615.8" cy="291.0" r="1.45"/><circle cx="615.8" cy="293.5" r="1.45"/><circle cx="615.8" cy="295.6" r="1.45"/><circle cx="615.8" cy="307.0" r="1.45"/><circle cx="615.8" cy="312.0" r="1.45"/><circle cx="615.8" cy="312.7" r="1.45"/><circle cx="615.8" cy="316.3" r="1.45"/><circle cx="615.8" cy="318.4" r="1.45"/><circle cx="615.8" cy="320.5" r="1.45"/><circle cx="615.8" cy="322.6" r="1.45"/><circle cx="615.8" cy="326.8" r="1.45"/><circle cx="615.8" cy="328.5" r="1.45"/><circle cx="615.8" cy="330.3" r="1.45"/><circle cx="615.8" cy="332.0" r="1.45"/><circle cx="615.8" cy="334.0" r="1.45"/><circle cx="615.8" cy="341.4" r="1.45"/><circle cx="615.8" cy="345.6" r="1.45"/><circle cx="615.8" cy="348.8" r="1.45"/><circle cx="615.8" cy="360.3" r="1.45"/><circle cx="615.8" cy="362.4" r="1.45"/><circle cx="615.8" cy="364.5" r="1.45"/><circle cx="615.8" cy="366.6" r="1.45"/><circle cx="615.8" cy="379.4" r="1.45"/><circle cx="615.8" cy="385.0" r="1.45"/><circle cx="615.8" cy="394.0" r="1.45"/><circle cx="615.8" cy="396.0" r="1.45"/><circle cx="615.8" cy="403.0" r="1.45"/><circle cx="615.8" cy="406.7" r="1.45"/><circle cx="615.8" cy="338.0" r="1.45"/><circle cx="615.8" cy="352.0" r="1.45"/></g><path d="M389.9 251.4V414.0H699" stroke="#0a0a0a" stroke-width="1.4" fill="none"/><line x1="387.29999999999995" y1="253.3" x2="389.9" y2="253.3" stroke="#999" stroke-width="0.8"/><text transform="translate(386.29999999999995 257.6) scale(0.97 1)" font-size="10.4" text-anchor="end" fill="#111" stroke="#111" stroke-width="0.1" font-family='"Liberation Sans", sans-serif'>1.00</text><line x1="387.29999999999995" y1="298.4" x2="389.9" y2="298.4" stroke="#999" stroke-width="0.8"/><text transform="translate(386.29999999999995 302.7) scale(0.97 1)" font-size="10.4" text-anchor="end" fill="#111" stroke="#111" stroke-width="0.1" font-family='"Liberation Sans", sans-serif'>0.75</text><line x1="387.29999999999995" y1="343.5" x2="389.9" y2="343.5" stroke="#999" stroke-width="0.8"/><text transform="translate(386.29999999999995 347.8) scale(0.97 1)" font-size="10.4" text-anchor="end" fill="#111" stroke="#111" stroke-width="0.1" font-family='"Liberation Sans", sans-serif'>0.50</text><line x1="387.29999999999995" y1="388.6" x2="389.9" y2="388.6" stroke="#999" stroke-width="0.8"/><text transform="translate(386.29999999999995 392.90000000000003) scale(0.97 1)" font-size="10.4" text-anchor="end" fill="#111" stroke="#111" stroke-width="0.1" font-family='"Liberation Sans", sans-serif'>0.25</text><line x1="474.5" y1="413.7" x2="474.5" y2="415.9" stroke="#999" stroke-width="0.8"/><line x1="615.8" y1="413.7" x2="615.8" y2="415.9" stroke="#999" stroke-width="0.8"/><text x="474.5" y="425.8" font-size="9.75" stroke="#1a1a1a" stroke-width="0.15" text-anchor="middle" fill="#1a1a1a" font-family='"Liberation Sans", sans-serif'>Admission</text><text x="615.8" y="425.8" font-size="9.75" stroke="#1a1a1a" stroke-width="0.15" text-anchor="middle" fill="#1a1a1a" font-family='"Liberation Sans", sans-serif'>DCITW</text><text x="545" y="231.6" font-size="13.2" text-anchor="middle" fill="#111" stroke="#111" stroke-width="0.25" font-family='"Liberation Sans", sans-serif'>Poor outcome</text><text x="545" y="246" font-size="10" font-style="italic" text-anchor="middle" fill="#222" stroke="#222" stroke-width="0.15" font-family='"Liberation Sans", sans-serif'>P=0.923</text><text x="367.6" y="241.7" font-size="14.2" font-weight="bold" fill="#000" font-family='"Liberation Serif", serif'>D</text><text transform="translate(362.8 370.5) rotate(-90) scale(1 0.9)" font-size="7" fill="#111" stroke="#111" stroke-width="0.2" font-family='"Liberation Sans", sans-serif'>Ktrans<tspan dx="2.1">(</tspan><tspan dx="1.0">ml/100ml/min</tspan><tspan dx="0.6">)</tspan></text></g><rect x="0" y="427.7" width="699" height="1.3" fill="#000"/></svg>
</body></html>
